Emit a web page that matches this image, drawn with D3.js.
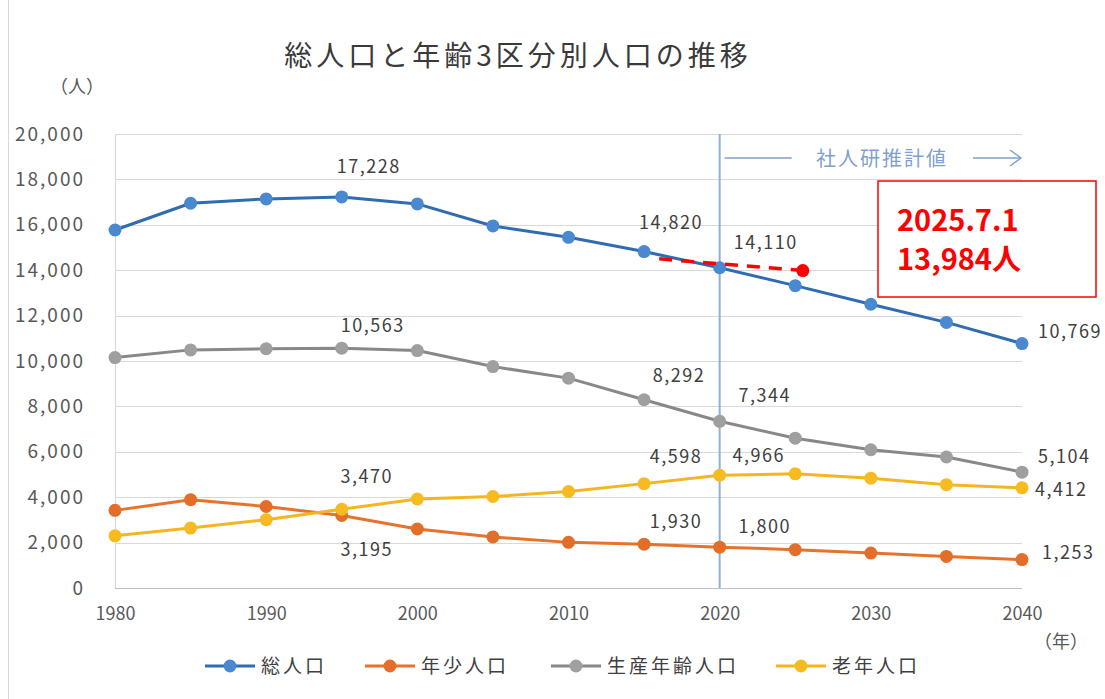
<!DOCTYPE html>
<html lang="ja">
<head>
<meta charset="utf-8">
<script src="https://cdn.jsdelivr.net/npm/d3@7"></script>
<style>
  html, body { margin: 0; padding: 0; background: #fff; }
  svg { display: block; }
  text { font-family: "Noto Sans CJK JP", "Noto Sans", sans-serif; }
</style>
</head>
<body>
<svg id="chart" width="1105" height="699"></svg>
<script>
// 年次（国勢調査・推計）
const years = [1980, 1985, 1990, 1995, 2000, 2005, 2010, 2015, 2020, 2025, 2030, 2035, 2040];
// 総人口
const totalPop = [15770, 16950, 17140, 17228, 16920, 15950, 15450, 14820, 14110, 13320, 12500, 11700, 10769];
// 年少人口（0〜14歳）
const youthPop = [3420, 3890, 3590, 3195, 2600, 2250, 2010, 1930, 1800, 1690, 1540, 1390, 1253];
// 生産年齢人口（15〜64歳）
const workingPop = [10150, 10490, 10540, 10563, 10460, 9755, 9245, 8292, 7344, 6600, 6090, 5770, 5104];
// 老年人口（65歳以上）
const elderlyPop = [2300, 2640, 3010, 3470, 3920, 4030, 4250, 4598, 4966, 5030, 4840, 4550, 4412];

const seriesNames = ["総人口", "年少人口", "生産年齢人口", "老年人口"];
const xTicks = [1980, 1990, 2000, 2010, 2020, 2030, 2040];
const yTicks = [0, 2000, 4000, 6000, 8000, 10000, 12000, 14000, 16000, 18000, 20000];
const projectionStart = 2020;
const projectionLabel = "社人研推計値";

// 現在人口（2025年7月1日）
const currentDate = 2025.5;
const currentPop = 13984;
const currentLabel = ["2025.7.1", "13,984人"];
const trendFrom = [2016, 14500];

const svg = d3.select("#chart");
const W = 1105, H = 699;

const x = d3.scaleLinear().domain([1980, 2040]).range([115, 1022]);
const y = d3.scaleLinear().domain([0, 20000]).range([588, 134]);
const fmt = d3.format(",");

const styles = [
  { line: "#2f6cb2", dot: "#4a89cf" },
  { line: "#e6722b", dot: "#e36e29" },
  { line: "#888888", dot: "#9f9f9f" },
  { line: "#f4b520", dot: "#f7bb22" }
];
const seriesValues = [totalPop, youthPop, workingPop, elderlyPop];

// ラベル位置（点からのずれ, anchor）
const labelPlacement = [
  { 1995: [27, -30, "middle"], 2015: [27, -29, "middle"], 2020: [46, -25, "middle"], 2040: [16, -12, "start"] },
  { 1995: [25, 34, "middle"], 2015: [32, -22, "middle"], 2020: [45, -20, "middle"], 2040: [20, -7, "start"] },
  { 1995: [31, -23, "middle"], 2015: [35, -24, "middle"], 2020: [45, -26, "middle"], 2040: [16, -15, "start"] },
  { 1995: [25, -33, "middle"], 2015: [32, -27, "middle"], 2020: [39, -20, "middle"], 2040: [13, 2, "start"] }
];

// 外枠
svg.append("rect").attr("x", 8.5).attr("y", -5).attr("width", W + 10).attr("height", H + 10)
  .attr("fill", "#fff").attr("stroke", "#d9d9d9");

// タイトル
svg.append("text")
  .attr("x", 518).attr("y", 66)
  .attr("text-anchor", "middle")
  .attr("font-size", 28).attr("letter-spacing", 4)
  .attr("fill", "#3a3a3a")
  .text("総人口と年齢3区分別人口の推移");

// 単位
svg.append("text").attr("x", 77).attr("y", 93).attr("text-anchor", "middle")
  .attr("font-size", 18).attr("fill", "#595959").text("（人）");
svg.append("text").attr("x", 1061).attr("y", 648).attr("text-anchor", "middle")
  .attr("font-size", 18).attr("fill", "#595959").text("（年）");

// 目盛線
svg.append("g").selectAll("line").data(yTicks).join("line")
  .attr("x1", x(1980)).attr("x2", x(2040))
  .attr("y1", d => Math.round(y(d)) + 0.5).attr("y2", d => Math.round(y(d)) + 0.5)
  .attr("stroke", d => d === 0 ? "#bfbfbf" : "#d9d9d9").attr("stroke-width", 1.2);
svg.append("line")
  .attr("x1", x(1980) + 0.5).attr("x2", x(1980) + 0.5)
  .attr("y1", y(20000)).attr("y2", y(0))
  .attr("stroke", "#d9d9d9").attr("stroke-width", 1.2);

// Y軸
const yAxis = d3.axisLeft(y).tickValues(yTicks).tickFormat(fmt).tickSize(0).tickPadding(0);
const gy = svg.append("g").attr("transform", "translate(85,0)").call(yAxis);
gy.select(".domain").remove();
gy.selectAll("text").attr("font-size", 19).attr("fill", "#595959")
  .attr("letter-spacing", 2).attr("font-family", "'Noto Sans CJK JP', sans-serif");

// X軸
const xAxis = d3.axisBottom(x).tickValues(xTicks).tickFormat(d3.format("d")).tickSize(0).tickPadding(0);
const gx = svg.append("g").attr("transform", "translate(0,607)").call(xAxis);
gx.select(".domain").remove();
gx.selectAll("text").attr("font-size", 18).attr("fill", "#595959")
  .attr("font-family", "'Noto Sans CJK JP', sans-serif");

// 推計期間の区切り
const xp = x(projectionStart);
svg.append("line").attr("x1", xp).attr("x2", xp).attr("y1", y(20000)).attr("y2", y(0))
  .attr("stroke", "#8eb0d8").attr("stroke-width", 2);
const annY = 158;
const annColor = "#7f9fcc";
svg.append("line").attr("x1", xp + 5).attr("x2", xp + 72).attr("y1", annY).attr("y2", annY)
  .attr("stroke", annColor).attr("stroke-width", 1.5);
svg.append("text").attr("x", 882).attr("y", annY + 8).attr("text-anchor", "middle")
  .attr("font-size", 20).attr("letter-spacing", 2).attr("fill", annColor).text(projectionLabel);
svg.append("line").attr("x1", 973).attr("x2", x(2040) - 2).attr("y1", annY).attr("y2", annY)
  .attr("stroke", annColor).attr("stroke-width", 1.5);
svg.append("path")
  .attr("d", `M${x(2040) - 12},${annY - 8} L${x(2040) - 1},${annY} L${x(2040) - 12},${annY + 8}`)
  .attr("fill", "none").attr("stroke", annColor).attr("stroke-width", 1.5);

// 折れ線と点
const line = d3.line().x(d => x(d[0])).y(d => y(d[1]));
seriesValues.forEach((vals, i) => {
  const pts = years.map((yr, j) => [yr, vals[j]]);
  const g = svg.append("g");
  g.append("path").datum(pts).attr("d", line)
    .attr("fill", "none").attr("stroke", styles[i].line).attr("stroke-width", 3)
    .attr("stroke-linejoin", "round");
  g.selectAll("circle").data(pts).join("circle")
    .attr("cx", d => x(d[0])).attr("cy", d => y(d[1])).attr("r", 6.5)
    .attr("fill", styles[i].dot);
});

// データラベル
seriesValues.forEach((vals, i) => {
  const place = labelPlacement[i];
  Object.keys(place).forEach(k => {
    const yr = +k;
    const j = years.indexOf(yr);
    const [dx, dy, anchor] = place[k];
    svg.append("text")
      .attr("x", x(yr) + dx).attr("y", y(vals[j]) + dy)
      .attr("dy", "0.35em")
      .attr("text-anchor", anchor)
      .attr("font-size", 18).attr("letter-spacing", 1.5).attr("fill", "#404040")
      .text(fmt(vals[j]));
  });
});

// 現在人口の注記
svg.append("line")
  .attr("x1", x(trendFrom[0])).attr("y1", y(trendFrom[1]))
  .attr("x2", x(currentDate)).attr("y2", y(currentPop))
  .attr("stroke", "#ff0000").attr("stroke-width", 3.5).attr("stroke-dasharray", "13,9");
svg.append("circle").attr("cx", x(currentDate)).attr("cy", y(currentPop)).attr("r", 6.5)
  .attr("fill", "#ff0000");
svg.append("rect").attr("x", 878).attr("y", 181).attr("width", 218).attr("height", 116)
  .attr("fill", "#fff").attr("stroke", "#ff0000").attr("stroke-width", 1.5);
currentLabel.forEach((t, k) => {
  svg.append("text").attr("x", 897).attr("y", 231 + k * 39)
    .attr("font-family", "'Liberation Sans', Arial, sans-serif")
    .attr("font-weight", "bold").attr("font-size", 29).attr("fill", "#ff0000")
    .text(t);
});

// 凡例
const legendX = [230, 390, 576, 801];
const legendY = 666;
seriesNames.forEach((name, i) => {
  const g = svg.append("g");
  g.append("line").attr("x1", legendX[i] - 25).attr("x2", legendX[i] + 25)
    .attr("y1", legendY).attr("y2", legendY)
    .attr("stroke", styles[i].line).attr("stroke-width", 3);
  g.append("circle").attr("cx", legendX[i]).attr("cy", legendY).attr("r", 6.5).attr("fill", styles[i].dot);
  g.append("text").attr("x", legendX[i] + 31).attr("y", legendY).attr("dy", "0.35em")
    .attr("font-size", 19).attr("letter-spacing", 3).attr("fill", "#404040").text(name);
});
</script>
</body>
</html>
